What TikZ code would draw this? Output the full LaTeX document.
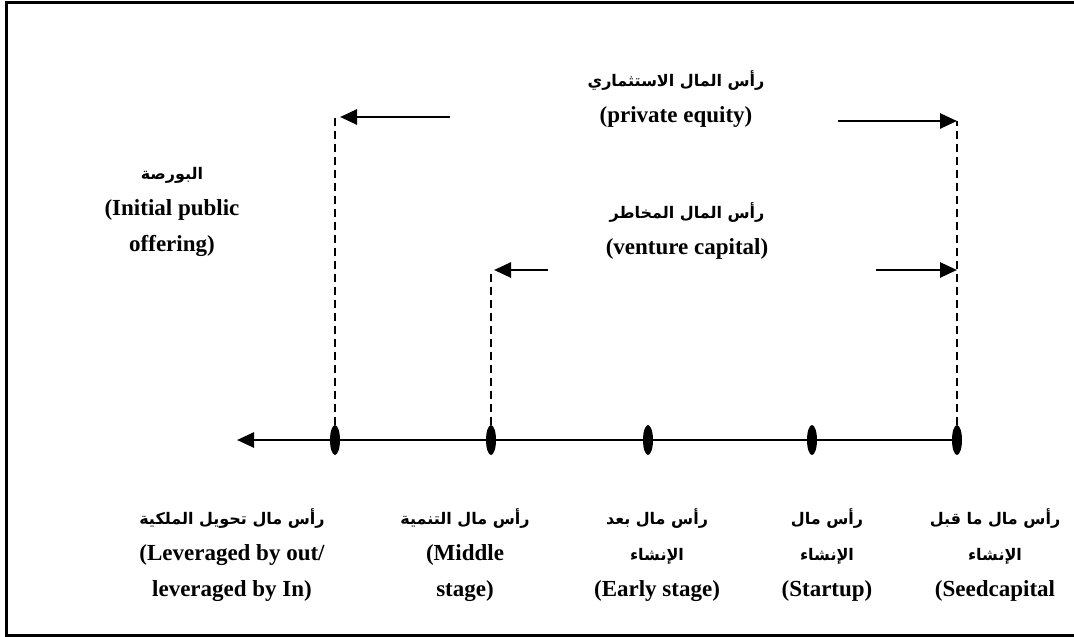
\documentclass[tikz,border=0pt]{standalone}
\usepackage{fontspec}
\setmainfont{Liberation Serif}
\newfontfamily\arabicfont[Script=Arabic]{DejaVu Sans}
\TeXXeTstate=1
\usetikzlibrary{arrows.meta, shapes.geometric}
\newcommand{\ar}[1]{{\arabicfont\fontsize{16}{36}\selectfont\beginR #1\endR}}

\begin{document}
\begin{tikzpicture}[x=1pt, y=-1pt, thick]
        \tikzstyle{every node}=[font=\bfseries\fontsize{23}{36}\selectfont, align=center, inner sep=0pt]
        \tikzstyle{stagedot}=[ellipse, fill=black, minimum width=10pt, minimum height=30pt]
        \tikzstyle{axisline}=[line width=2.6pt, -{Triangle[length=17pt, width=15pt]}]
        \tikzstyle{arr}=[line width=2.6pt, -{Triangle[length=17pt, width=15pt]}]
        \tikzstyle{guide}=[line width=1.8pt, dash pattern=on 8pt off 5pt]
        \useasboundingbox (0,0) rectangle (1074,637);
        \draw[line width=3pt] (6,2) rectangle (1080,635); % frame
        % stages on the axis
        \coordinate (axisend) at (237,440);
        \draw[axisline] (957,440) coordinate (axisstart) -- (axisend);
        \node [stagedot] (lbo) at (335, 440) {};
        \node [stagedot] (middle) at (491, 440) {};
        \node [stagedot] (early) at (648, 440) {};
        \node [stagedot] (startup) at (812, 440) {};
        \node [stagedot] (seed) at (957, 440) {};
        % arrow ends
        \coordinate (peL) at (335,117);
        \coordinate (peR) at (957,121);
        \coordinate (vcL) at (491,270);
        \coordinate (vcR) at (957,270);
        \draw[guide] (lbo.north) -- (peL);
        \draw[guide] (middle.north) -- (vcL);
        \draw[guide] (seed.north) -- (peR);
        \draw[arr] (450,117) coordinate (peLstart) -- ([xshift=5pt]peL);
        \draw[arr] (838,121) coordinate (peRstart) -- (peR);
        \draw[arr] (548,270) coordinate (vcLstart) -- ([xshift=3pt]vcL);
        \draw[arr] (876,270) coordinate (vcRstart) -- (vcR);
        % labels
        \node (pe) at (676, 99) {\ar{رأس المال الاستثماري}\\(private equity)};
        \node (vc) at (687, 231) {\ar{رأس المال المخاطر}\\(venture capital)};
        \node (ipo) at (172, 212) {\ar{البورصة}\\(Initial public\\offering)};
        \node (lbotext) at (232, 555) {\ar{رأس مال تحويل الملكية}\\(Leveraged by out/\\leveraged by In)};
        \node (middletext) at (465, 555) {\ar{رأس مال التنمية}\\(Middle\\stage)};
        \node (earlytext) at (657, 555) {\ar{رأس مال بعد}\\\ar{الإنشاء}\\(Early stage)};
        \node (startuptext) at (827, 555) {\ar{رأس مال}\\\ar{الإنشاء}\\(Startup)};
        \node (seedtext) at (995, 555) {\ar{رأس مال ما قبل}\\\ar{الإنشاء}\\(Seedcapital};
\end{tikzpicture}
\end{document}
